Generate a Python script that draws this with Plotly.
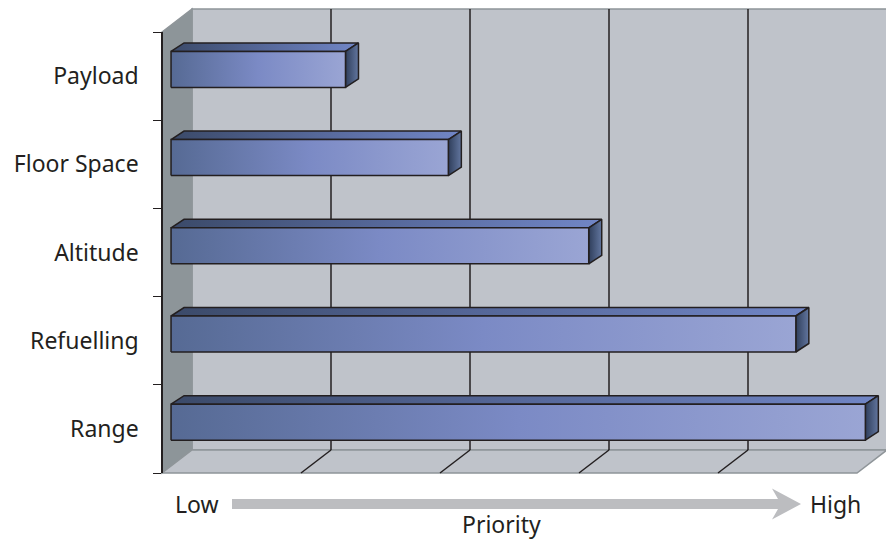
import plotly.graph_objects as go

# ---- data ----
categories = ["Range", "Refuelling", "Altitude", "Floor Space", "Payload"]
priority = [5.06, 4.56, 3.07, 2.06, 1.32]
bar_start = 0.065

# ---- canvas / scale ----
W, H = 886, 540
PX_X, X0 = 139.0, 162.0      # pixels per priority unit; pixel of priority 0 on the front plane
PX_Y, Y0 = 88.2, 428.9       # pixels per category step; pixel of category index 0 on the front plane
xr = [(0 - X0) / PX_X, (W - X0) / PX_X]
yr = [(Y0 - H) / PX_Y, (Y0 - 0) / PX_Y]

def ux(px): return px / PX_X
def uy(px): return px / PX_Y

wall_dx, wall_dy = ux(30), uy(23)      # depth of the chart box
bar_dx, bar_dy = ux(13), uy(8.5)       # depth of a bar
bar_half = uy(18)
bar_lift = uy(6.7)
y_low, y_high = -0.5, 4.5
x_right = 5.0
n_grid = 5

EDGE = "#8f9599"
DARK = "#231f20"
WALL = "#bfc3ca"
SIDE = "#8d9599"

fig = go.Figure()

def poly(xs, ys, fill, color=EDGE, width=1.5, layer="below"):
    path = "M " + " L ".join(f"{x},{y}" for x, y in zip(xs, ys)) + " Z"
    fig.add_shape(type="path", path=path, xref="x", yref="y", fillcolor=fill,
                  line=dict(color=color, width=width), layer=layer)

def seg(x0, y0, x1, y1, color=DARK, width=1.5):
    fig.add_shape(type="line", x0=x0, y0=y0, x1=x1, y1=y1, xref="x", yref="y",
                  line=dict(color=color, width=width), layer="below")

# back wall, side wall, floor
poly([wall_dx*1.0, x_right+wall_dx+0.02, x_right+wall_dx+0.02, wall_dx],
     [y_low+wall_dy, y_low+wall_dy, y_high+wall_dy, y_high+wall_dy], WALL)
poly([0, wall_dx, wall_dx, 0],
     [y_low, y_low+wall_dy, y_high+wall_dy, y_high], SIDE)
poly([0, x_right, x_right+wall_dx, wall_dx],
     [y_low, y_low, y_low+wall_dy, y_low+wall_dy], WALL)

# gridlines on the back wall and floor
for k in range(1, n_grid):
    seg(k+wall_dx, y_low+wall_dy, k+wall_dx, y_high+wall_dy)
    seg(k, y_low, k+wall_dx, y_low+wall_dy)

top_scale = [[0, "#3b4a69"], [0.5, "#56689a"], [1, "#7186c6"]]
front_scale = [[0, "#566a94"], [0.5, "#7b8ac5"], [1, "#9aa5d4"]]
side_scale = [[0, "#2f3e5b"], [1, "#62769f"]]

def face(xs, ys, scale):
    fig.add_trace(go.Scatter(
        x=xs + xs[:1], y=ys + ys[:1], xaxis="x", yaxis="y", mode="lines", fill="toself",
        fillgradient=dict(type="horizontal", colorscale=scale),
        line=dict(color=DARK, width=1.5), hoverinfo="skip", showlegend=False))

for i, v in enumerate(priority):
    yc = i + bar_lift
    lo, hi = yc - bar_half, yc + bar_half
    face([bar_start, bar_start+bar_dx, v+bar_dx, v], [hi, hi+bar_dy, hi+bar_dy, hi], top_scale)
    face([v, v+bar_dx, v+bar_dx, v], [lo, lo+bar_dy, hi+bar_dy, hi], side_scale)
    face([bar_start, v, v, bar_start], [lo, lo, hi, hi], front_scale)

# category axis carrier
fig.add_trace(go.Scatter(x=[None]*len(categories), y=categories, xaxis="x", yaxis="y2",
                         mode="markers", marker=dict(opacity=0), hoverinfo="skip", showlegend=False))

# priority arrow
ya = (Y0 - 504) / PX_Y
def ax(px): return (px - X0) / PX_X
sh = uy(5); hh = uy(15.5)
arrow = [(ax(232), ya+sh), (ax(778), ya+sh), (ax(772), ya+hh), (ax(801), ya),
         (ax(772), ya-hh), (ax(778), ya-sh), (ax(232), ya-sh)]
fig.add_shape(type="path", path="M " + " L ".join(f"{x},{y}" for x, y in arrow) + " Z",
              xref="x", yref="y", fillcolor="#bcbdc0", line=dict(width=0), layer="below")

FONT = "Noto Sans"
fs = 23
for txt, x, y, size in [("Low", ax(197), ya, fs), ("High", ax(835), ya, fs),
                        ("Priority", ax(501), (Y0-524)/PX_Y, fs)]:
    fig.add_annotation(text=txt, x=x, y=y, xref="x", yref="y", showarrow=False,
                       font=dict(family=FONT, size=size, color=DARK))

fig.update_layout(
    width=W, height=H, margin=dict(l=0, r=0, t=0, b=0),
    paper_bgcolor="white", plot_bgcolor="rgba(0,0,0,0)", showlegend=False,
    font=dict(family=FONT, size=fs, color=DARK),
    xaxis=dict(range=xr, domain=[0, 1], visible=False, fixedrange=True),
    yaxis=dict(range=yr, domain=[0, 1], visible=False, fixedrange=True),
    yaxis2=dict(type="category", categoryorder="array", categoryarray=categories,
                range=[y_low, y_high], tickson="boundaries",
                domain=[(H-473)/H, (H-32)/H], anchor="free", position=X0/W,
                showline=True, linecolor=DARK, linewidth=1.5, showgrid=False, zeroline=False,
                ticks="outside", ticklen=8, tickcolor=DARK, tickwidth=1.3,
                ticklabelstandoff=18, fixedrange=True),
)
fig.write_html("out.html", post_script="document.body.style.margin='0';",
               config=dict(displayModeBar=False))
